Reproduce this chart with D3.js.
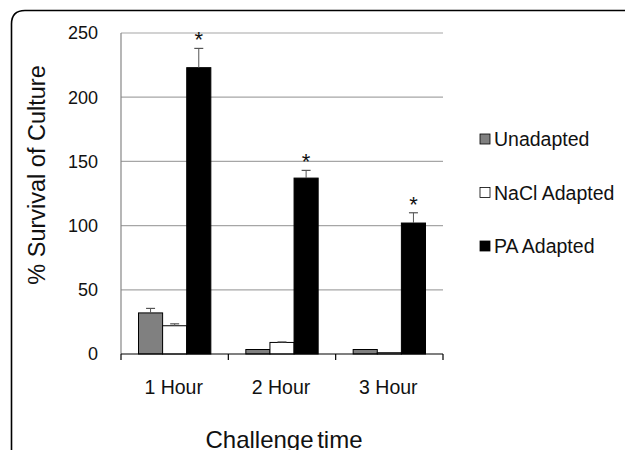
<!DOCTYPE html>
<html>
<head>
<meta charset="utf-8">
<script src="https://cdn.jsdelivr.net/npm/d3@7"></script>
<style>
    body { margin: 0; background: #fff; }
    svg { display: block; font-family: "Liberation Sans", Arial, sans-serif; }
    text { fill: #111; }
</style>
</head>
<body>
<svg id="chart" width="625" height="450"></svg>
<script>
/* ===== DATA ===== */
const categories = ["1 Hour", "2 Hour", "3 Hour"];
const seriesNames = ["Unadapted", "NaCl Adapted", "PA Adapted"];
const unadapted = [32, 3.5, 3.5];
const unadaptedErr = [3.5, 0, 0];
const naclAdapted = [22, 9, 1];
const naclErr = [1.5, 0.4, 0];
const paAdapted = [223, 137, 102];
const paErr = [15, 6, 8];
const significant = [true, true, true];
const yTicks = [0, 50, 100, 150, 200, 250];

const colors = ["#808080", "#ffffff", "#000000"];

/* ===== SETUP ===== */
const svg = d3.select("#chart");
const margin = { top: 33, left: 121, right: 182, bottom: 96 };
const width = 625 - margin.left - margin.right;
const height = 450 - margin.top - margin.bottom;

// rounded frame (only top/left visible)
svg.append("path")
    .attr("d", "M11.5,460 L11.5,24 Q11.5,10.5 25,10.5 L640,10.5")
    .attr("fill", "none")
    .attr("stroke", "#000")
    .attr("stroke-width", 1.6);

const g = svg.append("g").attr("transform", `translate(${margin.left},${margin.top})`);

const x = d3.scaleBand().domain(categories).range([0, width]).paddingInner(0).paddingOuter(0);
const xs = d3.scaleBand().domain(seriesNames).range([17.5, x.bandwidth() - 17.5]);
const y = d3.scaleLinear().domain([0, 250]).range([height, 0]);

// gridlines
g.selectAll(".grid")
    .data(yTicks.filter(d => d > 0))
    .enter().append("line")
    .attr("x1", 0).attr("x2", width)
    .attr("y1", d => y(d)).attr("y2", d => y(d))
    .attr("stroke", "#a6a6a6").attr("stroke-width", 1.2);

// y axis
g.append("line")
    .attr("x1", 0).attr("x2", 0)
    .attr("y1", 0).attr("y2", height)
    .attr("stroke", "#868686").attr("stroke-width", 1.2);

g.selectAll(".ytick")
    .data(yTicks)
    .enter().append("text")
    .attr("x", -23)
    .attr("y", d => y(d))
    .attr("dy", "0.36em")
    .attr("text-anchor", "end")
    .style("font-size", "18px")
    .text(d => d);

// bars
const series = [
    { name: seriesNames[0], values: unadapted, err: unadaptedErr },
    { name: seriesNames[1], values: naclAdapted, err: naclErr },
    { name: seriesNames[2], values: paAdapted, err: paErr }
];

series.forEach((s, si) => {
    const sg = g.append("g");
    sg.selectAll("rect")
        .data(categories)
        .enter().append("rect")
        .attr("x", c => x(c) + xs(s.name))
        .attr("y", (c, i) => y(s.values[i]))
        .attr("width", xs.bandwidth())
        .attr("height", (c, i) => height - y(s.values[i]))
        .attr("fill", colors[si])
        .attr("stroke", "#000")
        .attr("stroke-width", 1);

    // error bars (upper only)
    categories.forEach((c, i) => {
        if (!s.err[i]) return;
        const cx = x(c) + xs(s.name) + xs.bandwidth() / 2;
        sg.append("line")
            .attr("x1", cx).attr("x2", cx)
            .attr("y1", y(s.values[i])).attr("y2", y(s.values[i] + s.err[i]))
            .attr("stroke", "#555").attr("stroke-width", 1);
        sg.append("line")
            .attr("x1", cx - 4.5).attr("x2", cx + 4.5)
            .attr("y1", y(s.values[i] + s.err[i])).attr("y2", y(s.values[i] + s.err[i]))
            .attr("stroke", "#555").attr("stroke-width", 1.2);
    });
});

// asterisks on PA adapted
categories.forEach((c, i) => {
    if (!significant[i]) return;
    const cx = x(c) + xs(seriesNames[2]) + xs.bandwidth() / 2;
    g.append("text")
        .attr("x", cx)
        .attr("y", y(paAdapted[i] + paErr[i]) - 1)
        .attr("text-anchor", "middle")
        .style("font-size", "22px")
        .text("*");
});

// x axis
g.append("line")
    .attr("x1", 0).attr("x2", width)
    .attr("y1", height).attr("y2", height)
    .attr("stroke", "#000").attr("stroke-width", 1.2);

const xTickPos = categories.map(c => x(c)).concat([width]);
g.selectAll(".xtick")
    .data(xTickPos)
    .enter().append("line")
    .attr("x1", d => d).attr("x2", d => d)
    .attr("y1", height).attr("y2", height + 6)
    .attr("stroke", "#000").attr("stroke-width", 1.2);

g.selectAll(".xlabel")
    .data(categories)
    .enter().append("text")
    .attr("x", c => x(c) + x.bandwidth() / 2 - 1)
    .attr("y", height + 40)
    .attr("text-anchor", "middle")
    .style("font-size", "19.5px")
    .text(c => c);

// axis titles
svg.append("text")
    .attr("transform", "translate(45,175) rotate(-90)")
    .attr("text-anchor", "middle")
    .style("font-size", "23.5px")
    .text("% Survival of Culture");

svg.append("text")
    .attr("x", 284)
    .attr("y", 448)
    .attr("text-anchor", "middle")
    .style("font-size", "24px")
    .style("word-spacing", "-3px")
    .text("Challenge time");

// legend
const legend = svg.append("g").attr("transform", "translate(480,0)");
const legendY = [139, 192.5, 246];
seriesNames.forEach((n, i) => {
    legend.append("rect")
        .attr("x", 0).attr("y", legendY[i] - 5)
        .attr("width", 10).attr("height", 10)
        .attr("fill", colors[i])
        .attr("stroke", "#000").attr("stroke-width", 0.8);
    legend.append("text")
        .attr("x", 14).attr("y", legendY[i])
        .attr("dy", "0.36em")
        .style("font-size", "19.5px")
        .text(n);
});
</script>
</body>
</html>
